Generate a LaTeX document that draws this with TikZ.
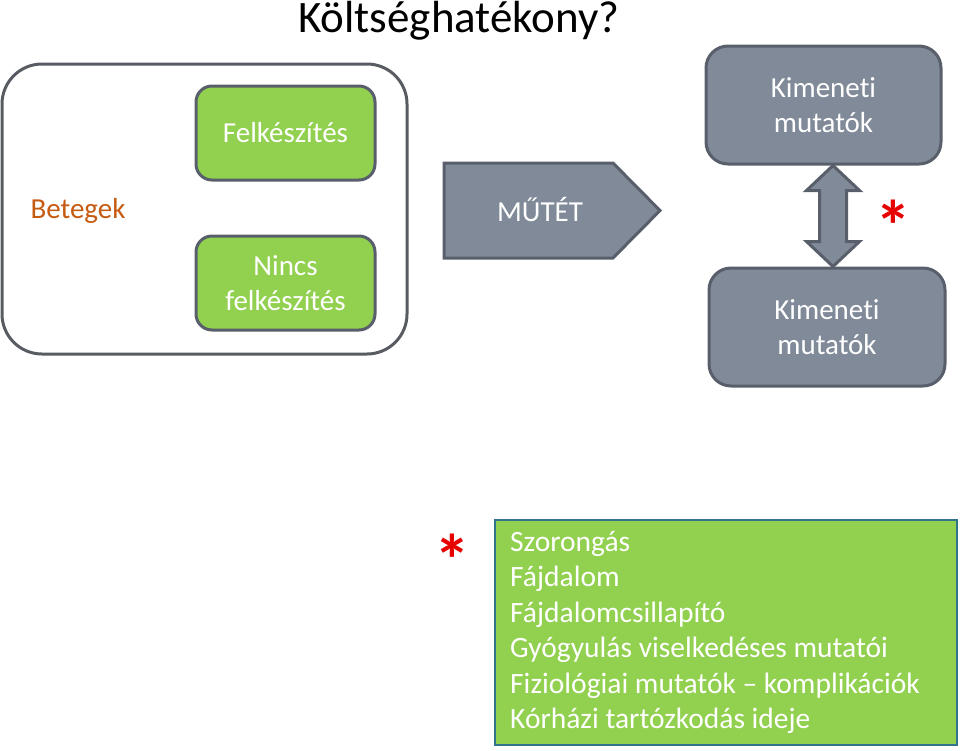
\documentclass[tikz,border=0pt]{standalone}
\usepackage{fontspec}
\setmainfont{Carlito}[Ligatures={NoCommon,NoRare,NoContextual}]
\usetikzlibrary{calc}
\definecolor{boxgreen}{RGB}{146,208,80}
\definecolor{slate}{RGB}{128,138,153}
\definecolor{slateline}{RGB}{88,95,107}
\definecolor{outerline}{RGB}{88,92,98}
\definecolor{betorange}{RGB}{197,90,17}
\definecolor{listline}{RGB}{52,115,140}
\definecolor{starred}{RGB}{230,0,0}
\tikzset{
  greenbox/.style={draw=slateline, line width=3pt, fill=boxgreen, rounded corners=16pt,
    minimum width=179pt, minimum height=94pt, inner sep=0pt, text=white, align=center,
    font=\fontsize{29}{35}\selectfont},
  graybox/.style={draw=slateline, line width=3pt, fill=slate, rounded corners=22pt,
    minimum width=235pt, minimum height=118pt, inner sep=0pt, text=white, align=center,
    font=\fontsize{29}{35}\selectfont},
  listtext/.style={anchor=base west, inner sep=0pt, text=white, font=\fontsize{29.5}{35.5}\selectfont},
  star/.style={inner sep=0pt, text=starred, font=\fontsize{72}{72}\selectfont\bfseries}
}
\begin{document}
\begin{tikzpicture}[x=1pt,y=-1pt]
\useasboundingbox (0,0) rectangle (960,750);
% title
\node[anchor=base west, inner sep=0pt, font=\fontsize{45}{48}\selectfont] (title) at (298,32) {Költséghatékony?};
% outer container
\node[draw=outerline, line width=3pt, rounded corners=40pt, minimum width=405pt, minimum height=290pt, inner sep=0pt] (outer) at (204.5,209) {};
\node[anchor=base, inner sep=0pt, text=betorange, font=\fontsize{29}{35}\selectfont] (betegek) at (78,218) {Betegek};
\node[greenbox] (felk) at (285.5,133) {Felkészítés};
\node[greenbox] (nincs) at (285.5,283) {Nincs\\felkészítés};
% surgery arrow
\draw[draw=slateline, line width=3pt, fill=slate, line join=miter] (444,163) -- (613,163) -- (660,210.5) -- (613,258) -- (444,258) -- cycle;
\node[inner sep=0pt, text=white, font=\fontsize{29}{35}\selectfont] (mutet) at (540,209) {MŰTÉT};
% outcome boxes
\node[graybox] (k1) at (823.5,105) {Kimeneti\\mutatók};
\node[graybox, minimum width=236pt] (k2) at (827,327) {Kimeneti\\mutatók};
% double arrow between outcomes
\coordinate (ax) at (833,0);
\coordinate (T) at (ax |- k1.south);
\coordinate (B) at (ax |- k2.north);
\draw[draw=slateline, line width=3pt, fill=slate, line join=miter]
  (T) -- ([shift={(26.5,25)}]T) -- ([shift={(13.5,25)}]T) -- ([shift={(13.5,-25)}]B)
  -- ([shift={(26.5,-25)}]B) -- (B) -- ([shift={(-26.5,-25)}]B) -- ([shift={(-13.5,-25)}]B)
  -- ([shift={(-13.5,25)}]T) -- ([shift={(-26.5,25)}]T) -- cycle;
\node[star] (star1) at (893,226) {*};
% list box
\node[draw=listline, line width=2pt, fill=boxgreen, minimum width=462pt, minimum height=225pt, inner sep=0pt] (list) at (726,632.5) {};
\node[star] (star2) at (452,560) {*};
\node[listtext] (l1) at (510,551) {Szorongás};
\node[listtext] (l2) at (510,586.5) {Fájdalom};
\node[listtext] (l3) at (510,622) {Fájdalomcsillapító};
\node[listtext] (l4) at (510,657.5) {Gyógyulás viselkedéses mutatói};
\node[listtext] (l5) at (510,693) {Fiziológiai mutatók – komplikációk};
\node[listtext] (l6) at (510,728.5) {Kórházi tartózkodás ideje};
\end{tikzpicture}
\end{document}
